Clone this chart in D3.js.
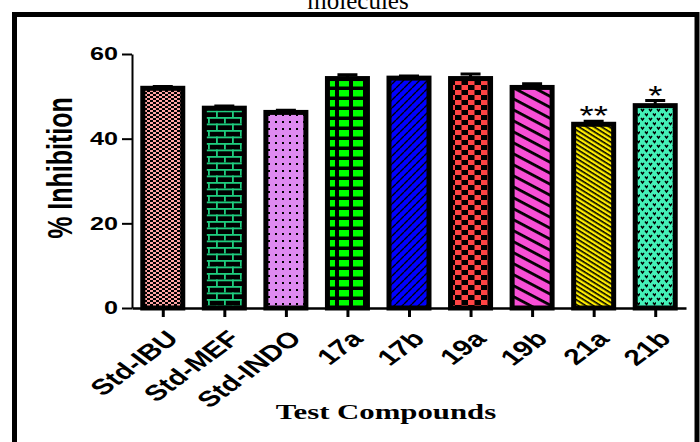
<!DOCTYPE html>
<html>
<head>
<meta charset="utf-8">
<script src="https://cdn.jsdelivr.net/npm/d3@7"></script>
<style>
  body { margin: 0; background: #fff; }
  svg { display: block; }
</style>
</head>
<body>
<div class="chart"></div>
<script>
// chart values
var categories = ["Std-IBU", "Std-MEF", "Std-INDO", "17a", "17b", "19a", "19b", "21a", "21b"];
var means = [51.9, 47.2, 46.2, 54.2, 54.3, 54.2, 52.1, 43.4, 47.8];
var sems = [0.4, 0.5, 0.5, 0.9, 0.5, 1.1, 0.9, 0.7, 1.2];
var marks = ["", "", "", "", "", "", "", "**", "*"];
var yTicks = [0, 20, 40, 60];

var svgWidth = 700;
var svgHeight = 442;
var stretch = 1.4; // the picture is stretched sideways, so are its texts

var svg = d3.select(".chart")
  .append("svg")
  .attr("width", svgWidth)
  .attr("height", svgHeight);

var defs = svg.append("defs");

// one fill pattern per bar
function pattern(id, w, h, bg, transform) {
  var p = defs.append("pattern")
    .attr("id", id)
    .attr("patternUnits", "userSpaceOnUse")
    .attr("width", w)
    .attr("height", h);
  if (transform) p.attr("patternTransform", transform);
  p.append("rect").attr("width", w).attr("height", h).attr("fill", bg);
  return p;
}

var p0 = pattern("p0", 6, 4, "#ffa3a3");
p0.append("rect").attr("x", 0).attr("y", 0).attr("width", 3).attr("height", 2).attr("fill", "#000");
p0.append("rect").attr("x", 3).attr("y", 2).attr("width", 3).attr("height", 2).attr("fill", "#000");

var p1 = pattern("p1", 16, 13, "#000");
p1.append("rect").attr("x", 0).attr("y", 0).attr("width", 16).attr("height", 1.8).attr("fill", "#1ecc7e");
p1.append("rect").attr("x", 0).attr("y", 6.5).attr("width", 16).attr("height", 1.8).attr("fill", "#1ecc7e");
p1.append("rect").attr("x", 0).attr("y", 0).attr("width", 1.8).attr("height", 6.5).attr("fill", "#1ecc7e");
p1.append("rect").attr("x", 8).attr("y", 6.5).attr("width", 1.8).attr("height", 6.5).attr("fill", "#1ecc7e");

var p2 = pattern("p2", 7, 7, "#de8af0");
p2.append("rect").attr("x", 2).attr("y", 2).attr("width", 2).attr("height", 2).attr("fill", "#000");

var p3 = pattern("p3", 14, 10, "#000");
p3.attr("x", 3);
p3.append("rect").attr("x", 0).attr("y", 0).attr("width", 10).attr("height", 6.5).attr("fill", "#00ff00");

var p4 = pattern("p4", 8, 8, "#0000ff");
p4.append("path").attr("d", "M0,4 L4,0 M4,8 L8,4").attr("stroke", "#000").attr("stroke-width", 1.4);

var p5 = pattern("p5", 13, 10, "#ff4444");
p5.append("rect").attr("x", 6.5).attr("y", 0).attr("width", 6.5).attr("height", 5).attr("fill", "#000");
p5.append("rect").attr("x", 0).attr("y", 5).attr("width", 6.5).attr("height", 5).attr("fill", "#000");

var p6 = pattern("p6", 20, 9.7, "#f84fd6", "rotate(28)");
p6.append("rect").attr("width", 20).attr("height", 2.8).attr("fill", "#000");

var p7 = pattern("p7", 20, 4, "#ffee00", "rotate(32)");
p7.append("rect").attr("width", 20).attr("height", 1.6).attr("fill", "#000");

var p8 = pattern("p8", 8, 9, "#44f0b8");
p8.append("path").attr("d", "M1,1 L2.5,3 L4,1 M5,5.5 L6.5,7.5 L8,5.5")
  .attr("stroke", "#000").attr("stroke-width", 1.4).attr("fill", "none");

// frame round the picture
svg.append("rect")
  .attr("x", 14.5)
  .attr("y", 14.5)
  .attr("width", 682.5)
  .attr("height", 460)
  .attr("fill", "none")
  .attr("stroke", "#000")
  .attr("stroke-width", 5);

// caption line cut off at the top
svg.append("text")
  .attr("x", 358)
  .attr("y", 9)
  .attr("text-anchor", "middle")
  .style("font-family", "'Liberation Serif', 'Times New Roman', serif")
  .style("font-size", "25px")
  .text("molecules");

var y = d3.scaleLinear().domain([0, 60]).range([308, 54]);
var x = d3.scalePoint().domain(categories).range([132, 686]).padding(0.5);

var barWidth = 40;

// bars
svg.selectAll(".bar")
  .data(means)
  .enter()
  .append("rect")
  .attr("class", "bar")
  .attr("x", function(d, i) { return x(categories[i]) - barWidth / 2; })
  .attr("y", function(d) { return y(d); })
  .attr("width", barWidth)
  .attr("height", function(d) { return y(0) - y(d); })
  .attr("fill", function(d, i) { return "url(#p" + i + ")"; })
  .attr("stroke", "#000")
  .attr("stroke-width", 5);

// error bars
svg.selectAll(".err")
  .data(means)
  .enter()
  .append("path")
  .attr("class", "err")
  .attr("d", function(d, i) {
    var cx = x(categories[i]);
    var top = y(d + sems[i]);
    return "M" + cx + "," + y(d) + "V" + top + "M" + (cx - 10) + "," + top + "H" + (cx + 10);
  })
  .attr("stroke", "#000")
  .attr("stroke-width", 3)
  .attr("fill", "none");

// significance stars
svg.selectAll(".mark")
  .data(marks)
  .enter()
  .append("text")
  .attr("class", "mark")
  .attr("transform", function(d, i) {
    return "translate(" + x(categories[i]) + "," + (y(means[i] + sems[i]) + 4) + ") scale(1.3,1)";
  })
  .attr("text-anchor", "middle")
  .style("font-family", "'Liberation Sans', Arial, sans-serif")
  .style("font-size", "28px")
  .text(function(d) { return d; });

// y axis
var yAxis = svg.append("g")
  .attr("transform", "translate(132,0)")
  .call(d3.axisLeft(y).tickValues(yTicks).tickSize(10).tickSizeOuter(0));
yAxis.select(".domain").attr("stroke-width", 2);
yAxis.selectAll(".tick line").attr("stroke-width", 2);
yAxis.selectAll(".tick text")
  .attr("x", -10)
  .attr("transform", "scale(" + stretch + ",1)")
  .style("font-family", "'Liberation Sans', Arial, sans-serif")
  .style("font-size", "18px")
  .style("font-weight", "bold")
  .attr("fill", "#000");

// x axis
var xAxis = svg.append("g")
  .attr("transform", "translate(0,308)")
  .call(d3.axisBottom(x).tickSize(9).tickSizeOuter(0));
xAxis.select(".domain").attr("stroke-width", 2.5);
xAxis.selectAll(".tick line").attr("stroke-width", 3);
xAxis.selectAll(".tick text").remove();

svg.selectAll(".xlabel")
  .data(categories)
  .enter()
  .append("text")
  .attr("class", "xlabel")
  .attr("transform", function(d) {
    return "translate(" + (x(d) + 17) + ",340) scale(1.35,1) rotate(-45)";
  })
  .attr("text-anchor", "end")
  .style("font-family", "'Liberation Sans', Arial, sans-serif")
  .style("font-size", "22px")
  .style("font-weight", "bold")
  .text(function(d) { return d; });

// axis titles
svg.append("text")
  .attr("transform", "translate(60,168) scale(" + stretch + ",1) rotate(-90)")
  .attr("text-anchor", "middle")
  .attr("dy", "0.35em")
  .style("font-family", "'Liberation Sans', Arial, sans-serif")
  .style("font-size", "25px")
  .style("font-weight", "bold")
  .text("% Inhibition");

svg.append("text")
  .attr("transform", "translate(386,419) scale(" + stretch + ",1)")
  .attr("text-anchor", "middle")
  .style("font-family", "'Liberation Serif', 'Times New Roman', serif")
  .style("font-size", "22px")
  .style("font-weight", "bold")
  .text("Test Compounds");
</script>
</body>
</html>
